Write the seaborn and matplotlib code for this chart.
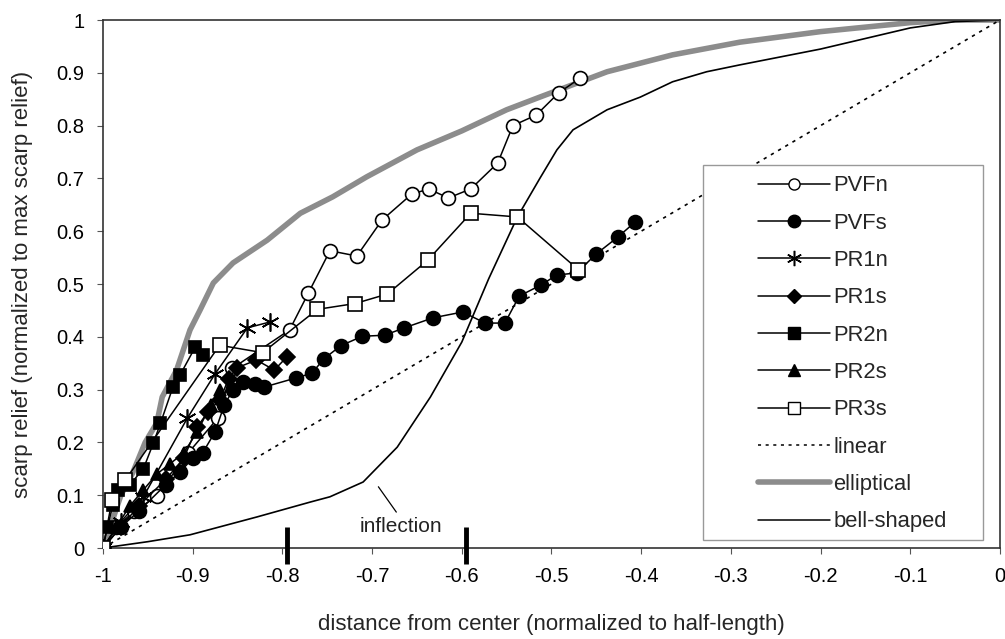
import numpy as np
import pandas as pd
import matplotlib
matplotlib.use('Agg')
import matplotlib.pyplot as plt
import seaborn as sns
from matplotlib.lines import Line2D
from matplotlib.patches import Rectangle

sns.set_style('ticks')
plt.rcParams['font.family'] = ['Liberation Sans', 'DejaVu Sans']

# ---- data ----
pvfn_x = [-1.0, -0.985, -0.965, -0.94, -0.905, -0.872, -0.856, -0.792, -0.771, -0.747, -0.717,
          -0.689, -0.656, -0.637, -0.615, -0.59, -0.56, -0.543, -0.517, -0.492, -0.468]
pvfn_y = [0.0, 0.04, 0.07, 0.098, 0.18, 0.246, 0.34, 0.413, 0.483, 0.563, 0.553,
          0.621, 0.67, 0.68, 0.663, 0.68, 0.729, 0.80, 0.82, 0.862, 0.89]

pvfs_x = [-1.0, -0.98, -0.96, -0.93, -0.914, -0.9, -0.889, -0.875, -0.865, -0.855, -0.844, -0.83,
          -0.82, -0.785, -0.767, -0.754, -0.735, -0.711, -0.686, -0.664, -0.632, -0.599,
          -0.574, -0.552, -0.536, -0.512, -0.494, -0.472, -0.45, -0.426, -0.407]
pvfs_y = [0.0, 0.04, 0.07, 0.12, 0.144, 0.17, 0.18, 0.22, 0.27, 0.30, 0.314, 0.31,
          0.305, 0.322, 0.331, 0.358, 0.383, 0.401, 0.403, 0.417, 0.436, 0.447,
          0.426, 0.426, 0.477, 0.498, 0.517, 0.521, 0.557, 0.589, 0.617]

pr1n_x = [-1.0, -0.98, -0.955, -0.906, -0.875, -0.839, -0.814]
pr1n_y = [0.0, 0.05, 0.097, 0.246, 0.33, 0.417, 0.428]

pr1s_x = [-1.0, -0.98, -0.96, -0.93, -0.91, -0.895, -0.883, -0.87, -0.86, -0.851, -0.829, -0.809, -0.795]
pr1s_y = [0.0, 0.04, 0.08, 0.13, 0.17, 0.229, 0.258, 0.28, 0.32, 0.341, 0.356, 0.337, 0.362]

pr2n_x = [-1.0, -0.995, -0.989, -0.983, -0.97, -0.955, -0.944, -0.936, -0.922, -0.914, -0.897, -0.889]
pr2n_y = [0.0, 0.04, 0.081, 0.11, 0.12, 0.15, 0.198, 0.236, 0.305, 0.328, 0.381, 0.366]

pr2s_x = [-1.0, -0.985, -0.97, -0.955, -0.94, -0.925, -0.91, -0.895, -0.88, -0.87]
pr2s_y = [0.0, 0.04, 0.08, 0.11, 0.14, 0.16, 0.18, 0.22, 0.27, 0.30]

pr3s_x = [-1.0, -0.99, -0.975, -0.87, -0.822, -0.761, -0.719, -0.683, -0.638, -0.59, -0.538, -0.47]
pr3s_y = [0.0, 0.09, 0.129, 0.384, 0.37, 0.452, 0.463, 0.481, 0.545, 0.634, 0.627, 0.527]

linear_x = [-1.0, 0.0]
linear_y = [0.0, 1.0]

ellip_x = [-1.0, -0.99, -0.98, -0.967, -0.953, -0.94, -0.934, -0.918, -0.903, -0.892, -0.877,
           -0.855, -0.817, -0.78, -0.744, -0.706, -0.65, -0.6, -0.55, -0.513, -0.438, -0.365,
           -0.29, -0.2, -0.1, -0.05, 0.0]
ellip_y = [0.0, 0.05, 0.1, 0.142, 0.2, 0.237, 0.286, 0.337, 0.413, 0.45, 0.502,
           0.54, 0.583, 0.634, 0.665, 0.703, 0.754, 0.79, 0.83, 0.854, 0.902, 0.934,
           0.958, 0.978, 0.995, 1.0, 1.0]

bell_x = [-1.0, -0.95, -0.903, -0.828, -0.769, -0.747, -0.71, -0.672, -0.635, -0.6, -0.57,
          -0.538, -0.513, -0.494, -0.476, -0.438, -0.401, -0.365, -0.327, -0.29, -0.2, -0.1,
          -0.05, 0.0]
bell_y = [0.0, 0.012, 0.025, 0.059, 0.087, 0.097, 0.125, 0.191, 0.286, 0.39, 0.51,
          0.627, 0.70, 0.754, 0.792, 0.83, 0.854, 0.883, 0.902, 0.915, 0.945, 0.985,
          0.997, 1.0]

marks_x = [-0.795, -0.595]
x_ticks = [-1, -0.9, -0.8, -0.7, -0.6, -0.5, -0.4, -0.3, -0.2, -0.1, 0]
x_labels = ['-1', '-0.9', '-0.8', '-0.7', '-0.6', '-0.5', '-0.4', '-0.3', '-0.2', '-0.1', '0']
y_ticks = [0, 0.1, 0.2, 0.3, 0.4, 0.5, 0.6, 0.7, 0.8, 0.9, 1]
y_labels = ['0', '0.1', '0.2', '0.3', '0.4', '0.5', '0.6', '0.7', '0.8', '0.9', '1']

# ---- figure ----
fig = plt.figure(figsize=(10.05, 6.39), dpi=100)
ax = fig.add_axes([0.1025, 0.1424, 0.8925, 0.8263])

# model curves
sns.lineplot(x=ellip_x, y=ellip_y, ax=ax, color='#8c8c8c', linewidth=4, sort=False,
             estimator=None, zorder=2)
sns.lineplot(x=linear_x, y=linear_y, ax=ax, color='black', linewidth=1.2, sort=False,
             estimator=None, zorder=2, linestyle=(0, (2, 3)))
sns.lineplot(x=bell_x, y=bell_y, ax=ax, color='black', linewidth=1.2, sort=False,
             estimator=None, zorder=2)

# profiles
series = [
    (pvfn_x, pvfn_y, 'o', 'white', 10),
    (pvfs_x, pvfs_y, 'o', 'black', 10),
    (pr1n_x, pr1n_y, (6, 2, 0), 'black', 13),
    (pr1s_x, pr1s_y, 'D', 'black', 8),
    (pr2n_x, pr2n_y, 's', 'black', 9),
    (pr2s_x, pr2s_y, '^', 'black', 9),
    (pr3s_x, pr3s_y, 's', 'white', 10),
]
for i, (xs, ys, mk, fc, ms) in enumerate(series):
    sns.lineplot(x=xs, y=ys, ax=ax, color='black', linewidth=1.1, sort=False,
                 estimator=None, marker=mk, markersize=ms, markerfacecolor=fc,
                 markeredgecolor='black', markeredgewidth=1.2, zorder=3 + i)

# heavy tick marks at -0.8 and -0.6
for mx in marks_x:
    ax.plot([mx, mx], [0.04, -0.03], color='black', linewidth=3.5, clip_on=False,
            solid_capstyle='butt', zorder=20)

# inflection annotation
ax.plot([-0.693, -0.673], [0.116, 0.068], color='black', linewidth=0.9, zorder=20)
ax.text(-0.668, 0.040, 'inflection', ha='center', va='center', fontsize=15, color='#222222')

ax.set_xlim(-1, 0)
ax.set_ylim(0, 1)
ax.set_xticks(x_ticks)
ax.set_xticklabels(x_labels)
ax.set_yticks(y_ticks)
ax.set_yticklabels(y_labels)
ax.tick_params(axis='both', direction='out', length=4, width=0.8, labelsize=14.5,
               colors='#555555', labelcolor='black', pad=9.5)
for side in ['left', 'bottom', 'top', 'right']:
    ax.spines[side].set_visible(True)
    ax.spines[side].set_linewidth(1.2)
    ax.spines[side].set_color('#333333')
ax.set_xlabel('distance from center (normalized to half-length)', fontsize=16, labelpad=20)
ax.set_ylabel('scarp relief (normalized to max scarp relief)', fontsize=16, labelpad=17)

# legend with a hand-placed frame
handles = [
    Line2D([], [], color='black', lw=1.1, marker='o', ms=8, mfc='white', mec='black'),
    Line2D([], [], color='black', lw=1.1, marker='o', ms=9, mfc='black', mec='black'),
    Line2D([], [], color='black', lw=1.1, marker=(6, 2, 0), ms=11, mec='black', mew=1.1),
    Line2D([], [], color='black', lw=1.1, marker='D', ms=7, mfc='black', mec='black'),
    Line2D([], [], color='black', lw=1.1, marker='s', ms=8, mfc='black', mec='black'),
    Line2D([], [], color='black', lw=1.1, marker='^', ms=9, mfc='black', mec='black'),
    Line2D([], [], color='black', lw=1.1, marker='s', ms=8, mfc='white', mec='black'),
    Line2D([], [], color='black', lw=1.1, linestyle=(0, (2, 3))),
    Line2D([], [], color='#8c8c8c', lw=4),
    Line2D([], [], color='black', lw=1.1),
]
labels = ['PVFn', 'PVFs', 'PR1n', 'PR1s', 'PR2n', 'PR2s', 'PR3s', 'linear', 'elliptical',
          'bell-shaped']
ax.add_patch(Rectangle((0.669, 0.015), 0.312, 0.71, transform=ax.transAxes, facecolor='white',
                       edgecolor='#999999', linewidth=1.0, zorder=30))
leg = ax.legend(handles, labels, loc='upper left', bbox_to_anchor=(0.730, 0.706),
                frameon=False, fontsize=15.8, handlelength=3.3, handletextpad=0.14,
                labelspacing=0.745, borderaxespad=0, borderpad=0)
leg.set_zorder(31)

fig.savefig('out.png', dpi=100)
